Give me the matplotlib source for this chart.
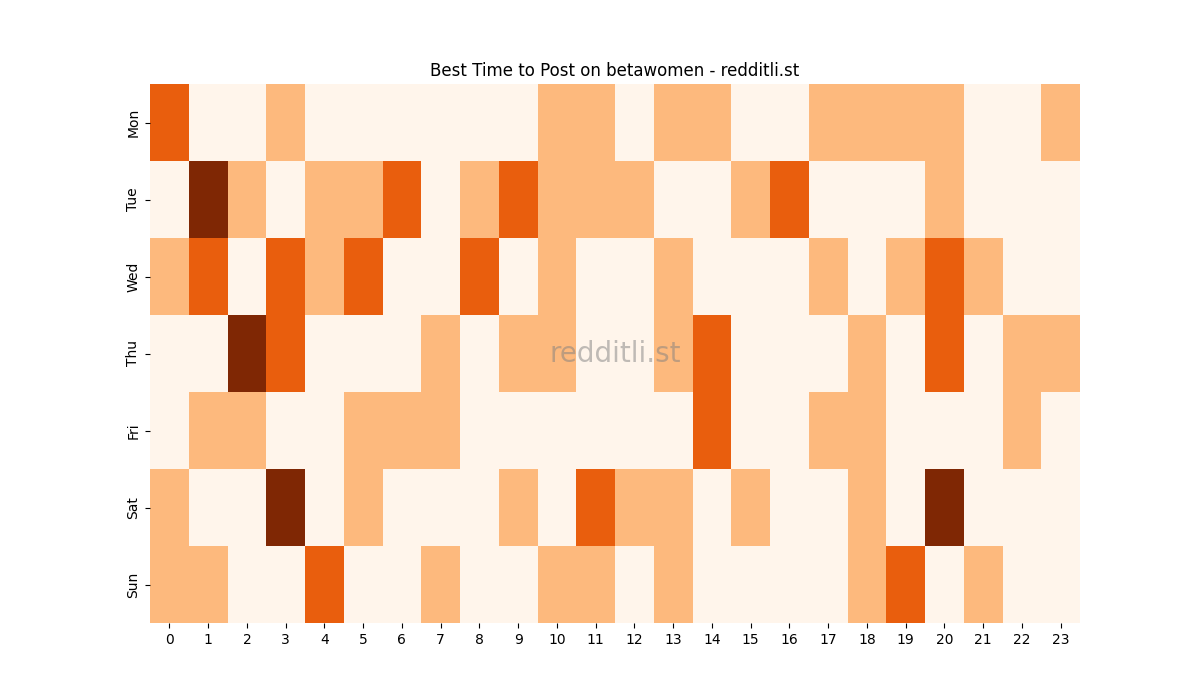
import numpy as np
import pandas as pd
import seaborn as sns
import matplotlib
matplotlib.use("Agg")
import matplotlib.pyplot as plt

days = ["Mon", "Tue", "Wed", "Thu", "Fri", "Sat", "Sun"]
hours = list(range(24))

# activity level per hour (0-3)
mon = [2, 0, 0, 1, 0, 0, 0, 0, 0, 0, 1, 1, 0, 1, 1, 0, 0, 1, 1, 1, 1, 0, 0, 1]
tue = [0, 3, 1, 0, 1, 1, 2, 0, 1, 2, 1, 1, 1, 0, 0, 1, 2, 0, 0, 0, 1, 0, 0, 0]
wed = [1, 2, 0, 2, 1, 2, 0, 0, 2, 0, 1, 0, 0, 1, 0, 0, 0, 1, 0, 1, 2, 1, 0, 0]
thu = [0, 0, 3, 2, 0, 0, 0, 1, 0, 1, 1, 0, 0, 1, 2, 0, 0, 0, 1, 0, 2, 0, 1, 1]
fri = [0, 1, 1, 0, 0, 1, 1, 1, 0, 0, 0, 0, 0, 0, 2, 0, 0, 1, 1, 0, 0, 0, 1, 0]
sat = [1, 0, 0, 3, 0, 1, 0, 0, 0, 1, 0, 2, 1, 1, 0, 1, 0, 0, 1, 0, 3, 0, 0, 0]
sun = [1, 1, 0, 0, 2, 0, 0, 1, 0, 0, 1, 1, 0, 1, 0, 0, 0, 0, 1, 2, 0, 1, 0, 0]

df = pd.DataFrame([mon, tue, wed, thu, fri, sat, sun], index=days, columns=hours)

fig = plt.figure(figsize=(12, 7), dpi=100)
ax = sns.heatmap(df, cmap="Oranges", vmin=0, vmax=3, cbar=False)
ax.set_title("Best Time to Post on betawomen - redditli.st")
ax.text(0.5, 0.5, "redditli.st", transform=ax.transAxes, fontsize=20,
        color="gray", alpha=0.5, ha="center", va="center")

plt.savefig("out.png")
